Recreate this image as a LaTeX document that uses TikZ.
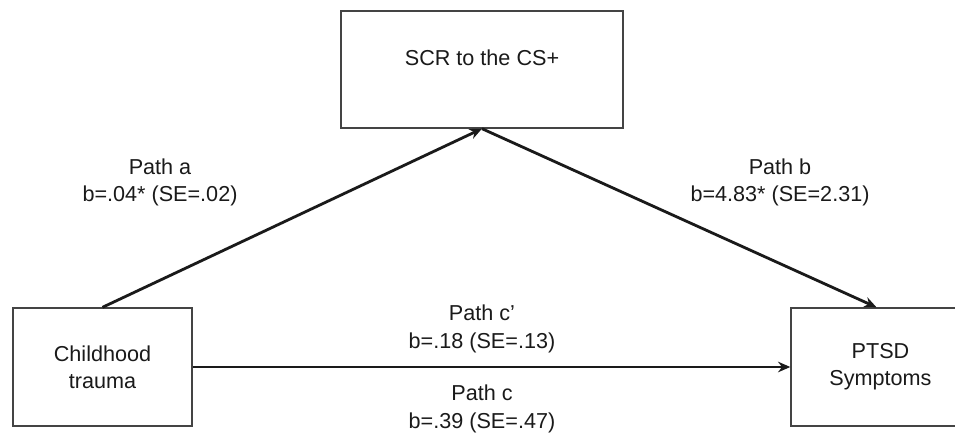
\documentclass[tikz,border=0pt]{standalone}
\usepackage{fontspec}
\setmainfont{Liberation Sans}
\usetikzlibrary{positioning, arrows.meta}
\usepackage{xcolor}
\definecolor{boxgray}{HTML}{444444}
\definecolor{inkblack}{HTML}{1A1A1A}

\begin{document}
\begin{tikzpicture}[x=0.02cm, y=-0.02cm,
    every node/.style={font=\fontsize{12.3}{15.5}\selectfont, text=inkblack},
    varbox/.style={draw=boxgray, line width=0.8pt, fill=white,
        minimum width=3.58cm, minimum height=2.36cm, align=center, inner sep=0pt},
    pathlabel/.style={align=center},
    patharrow/.style={line width=1.6pt, draw=inkblack,
        -{Stealth[length=7pt, width=6pt]}}]
    \useasboundingbox (0,0) rectangle (955,432);

    % Boxes
    \node[varbox, minimum width=5.64cm, minimum height=2.34cm] (scr) at (482,69.5) {};
    \node (scrtext) at (482,58) {SCR to the CS+};
    \node[varbox] (child) at (102.5,367) {Childhood\\trauma};
    \node[varbox] (ptsd) at (880.5,367) {PTSD\\Symptoms};

    % Paths
    \draw[patharrow] (child.north) -- (scr.south);
    \draw[patharrow] (scr.south) -- ([xshift=-0.08cm]ptsd.north);
    \draw[patharrow] (child.east) -- (ptsd.west);

    % Coefficients
    \node[pathlabel] (patha) at (160,182.5) {Path a\\b=.04* (SE=.02)};
    \node[pathlabel] (pathb) at (780,182.5) {Path b\\b=4.83* (SE=2.31)};
    \node[pathlabel] (pathcp) at (482,329) {Path c'\\b=.18 (SE=.13)};
    \node[pathlabel] (pathc) at (482,409) {Path c\\b=.39 (SE=.47)};
\end{tikzpicture}
\end{document}
